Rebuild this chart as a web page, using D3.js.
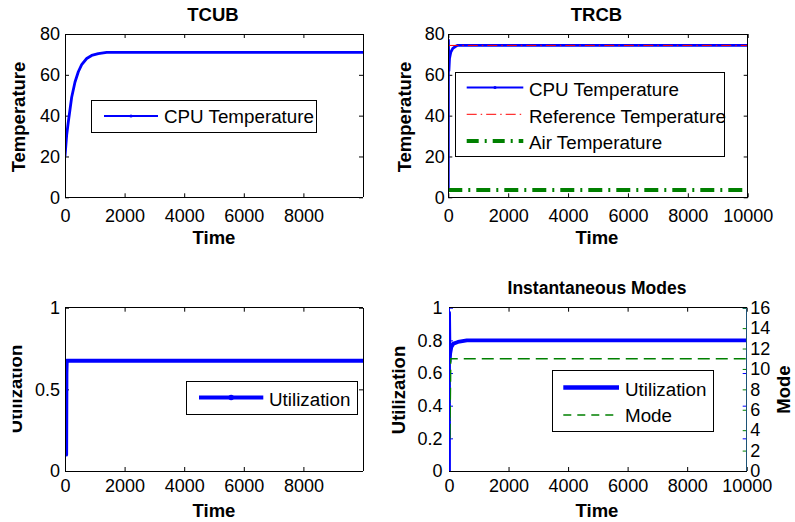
<!DOCTYPE html>
<html><head><meta charset="utf-8">
<script src="https://cdn.jsdelivr.net/npm/d3@7"></script>
<style>
body{margin:0;background:#fff}
svg{display:block}
text{font-family:"Liberation Sans",Arial,Helvetica,sans-serif;fill:#000}
</style>
</head><body>
<svg id="c" width="795" height="522"></svg>
<script>
// ---------------- DATA ----------------
const xTicksShort = [0, 2000, 4000, 6000, 8000];
const xTicksLong = [0, 2000, 4000, 6000, 8000, 10000];
const tempTicks = [0, 20, 40, 60, 80];
const utilTicksC = [0, 0.5, 1];
const utilTicksD = [0, 0.2, 0.4, 0.6, 0.8, 1];
const modeTicks = [0, 2, 4, 6, 8, 10, 12, 14, 16];

// TCUB
const tcubTime = [0, 56, 112, 168, 224, 336, 447, 560, 728, 895, 1118, 1400, 10000];
const tcubCpu  = [20, 30.5, 37, 43, 49, 56.5, 61.5, 65, 68, 69.5, 70.4, 71, 71];

// TRCB
const trcbTime = [0, 5, 20, 40, 80, 150, 250, 300, 10000];
const trcbCpu  = [3.6, 77, 62, 68, 71, 73, 74, 74.4, 74.4];
const trcbRefTime = [0, 10000];
const trcbRef  = [74.4, 74.4];
const trcbAirTime = [0, 10000];
const trcbAir  = [3.6, 3.6];

// Utilization (bottom-left)
const utilTime = [0, 40, 50, 60, 10000];
const utilVals = [0.1, 0.1, 0.6, 0.675, 0.675];

// Instantaneous Modes
const imTime = [0, 2, 20, 40, 80, 150, 300, 600, 10000];
const imUtil = [0, 0.97, 0.67, 0.72, 0.76, 0.78, 0.79, 0.80, 0.80];
const modeTime = [0, 3, 30, 60, 10000];
const modeVals = [1, 15, 3, 11, 11];

// ---------------- DRAW ----------------
const svg = d3.select("#c");
const FT = 18, FL = 18.5, FG = 18.8;
const BLUE = "#0000ff", RED = "#ff0000", GREEN = "#008000";
let clipId = 0;

function zip(a, b) { return a.map((v, i) => [v, b[i]]); }

function panel(o) {
  const x = d3.scaleLinear().domain(o.xd).range([o.l, o.r]);
  const y = d3.scaleLinear().domain(o.yd).range([o.b, o.t]);
  const g = svg.append("g");
  const id = "clip" + (clipId++);
  svg.append("clipPath").attr("id", id).append("rect")
    .attr("x", o.l).attr("y", o.t).attr("width", o.r - o.l).attr("height", o.b - o.t);
  const ax = d3.axisBottom(x).tickValues(o.xt).tickFormat(d3.format("d"))
    .tickSizeInner(-4).tickSizeOuter(0).tickPadding(o.xpad);
  const gx = g.append("g").attr("transform", `translate(0,${o.b})`).call(ax);
  gx.select(".domain").remove();
  gx.selectAll("text").attr("font-size", FT).attr("font-family", null).attr("fill", "#000");
  gx.selectAll("line").attr("stroke", "#000");
  const gt = g.append("g").attr("transform", `translate(0,${o.t})`)
    .call(d3.axisTop(x).tickValues(o.xt).tickFormat("").tickSizeInner(-4).tickSizeOuter(0));
  gt.select(".domain").remove();
  gt.selectAll("line").attr("stroke", "#000");
  const yc = o.ycol || "#000";
  const ay = d3.axisLeft(y).tickValues(o.yt).tickFormat(d => String(d))
    .tickSizeInner(-4).tickSizeOuter(0).tickPadding(o.ypad);
  const gy = g.append("g").attr("transform", `translate(${o.l},0)`).call(ay);
  gy.select(".domain").remove();
  gy.selectAll("text").attr("font-size", FT).attr("font-family", null).attr("fill", yc);
  gy.selectAll("line").attr("stroke", yc);
  const gr = g.append("g").attr("transform", `translate(${o.r},0)`)
    .call(d3.axisRight(y).tickValues(o.yt).tickFormat("").tickSizeInner(-4).tickSizeOuter(0));
  gr.select(".domain").remove();
  gr.selectAll("line").attr("stroke", yc);
  const body = svg.append("g").attr("clip-path", `url(#${id})`);
  return {x, y, g, body, o};
}

function box(p, colors) {
  const o = p.o;
  const c = Object.assign({l: "#000", r: "#000", t: "#000", b: "#000"}, colors || {});
  const sg = svg.append("g").attr("stroke-width", 1).attr("shape-rendering", "crispEdges");
  sg.append("line").attr("x1", o.l).attr("x2", o.r).attr("y1", o.t).attr("y2", o.t).attr("stroke", c.t);
  sg.append("line").attr("x1", o.l).attr("x2", o.r).attr("y1", o.b).attr("y2", o.b).attr("stroke", c.b);
  sg.append("line").attr("x1", o.l).attr("x2", o.l).attr("y1", o.t).attr("y2", o.b).attr("stroke", c.l);
  sg.append("line").attr("x1", o.r).attr("x2", o.r).attr("y1", o.t).attr("y2", o.b).attr("stroke", c.r);
}

function series(p, ts, vs, style, yScale) {
  const ys = yScale || p.y;
  const line = d3.line().x(d => p.x(d[0])).y(d => ys(d[1]));
  p.body.append("path").datum(zip(ts, vs)).attr("d", line)
    .attr("fill", "none").attr("stroke", style.c).attr("stroke-width", style.w)
    .attr("stroke-dasharray", style.dash || null).attr("stroke-linejoin", "round");
}

function label(txt, x, y, opts) {
  const parent = opts.clip ? svg.append("g").attr("clip-path", `url(#${opts.clip})`) : svg;
  const t = parent.append("text").text(txt).attr("x", x).attr("y", y)
    .attr("font-size", opts.size || FL).attr("font-weight", opts.bold === false ? null : "bold")
    .attr("text-anchor", opts.anchor || "middle").attr("fill", opts.color || "#000");
  if (opts.rot) t.attr("transform", `rotate(-90,${x},${y})`);
  return t;
}

function legend(bx, entries) {
  const g = svg.append("g");
  g.append("rect").attr("x", bx.x0).attr("y", bx.y0).attr("width", bx.x1 - bx.x0).attr("height", bx.y1 - bx.y0)
    .attr("fill", "#fff").attr("stroke", "#000").attr("stroke-width", 1).attr("shape-rendering", "crispEdges");
  entries.forEach(e => {
    g.append("line").attr("x1", bx.lx0).attr("x2", bx.lx1).attr("y1", e.ly).attr("y2", e.ly)
      .attr("stroke", e.c).attr("stroke-width", e.w).attr("stroke-dasharray", e.dash || null);
    if (e.dot) g.append("circle").attr("cx", (bx.lx0 + bx.lx1) / 2).attr("cy", e.ly).attr("r", e.w * 0.6 + 0.4).attr("fill", e.c);
    g.append("text").text(e.t).attr("x", bx.tx).attr("y", e.ty).attr("font-size", FG);
  });
}

// ---- Panel A: TCUB ----
const pA = panel({l: 65, r: 363, t: 34, b: 197.3, xd: [0, 10000], yd: [0, 80], xt: xTicksShort, yt: tempTicks, xpad: 12, ypad: 5});
series(pA, tcubTime, tcubCpu, {c: BLUE, w: 2.8});
box(pA);
label("TCUB", 213, 20.7, {});
label("Time", 214, 243.5, {});
label("Temperature", 25, 117, {rot: true});
legend({x0: 91.7, x1: 316.7, y0: 100, y1: 132, lx0: 104, lx1: 158, tx: 164},
  [{t: "CPU Temperature", c: BLUE, w: 2, ly: 116, ty: 123, dot: true}]);

// ---- Panel B: TRCB ----
const pB = panel({l: 448.3, r: 747.7, t: 34, b: 197.3, xd: [0, 10000], yd: [0, 80], xt: xTicksLong, yt: tempTicks, xpad: 12, ypad: 3.5});
series(pB, trcbTime, trcbCpu, {c: BLUE, w: 2.8});
series(pB, trcbRefTime, trcbRef, {c: RED, w: 1, dash: "10,4,1.5,4"});
series(pB, trcbAirTime, trcbAir, {c: GREEN, w: 4, dash: "14,6,2,6"});
box(pB);
label("TRCB", 596.5, 20.7, {});
label("Time", 597, 243.5, {});
label("Temperature", 410.5, 117, {rot: true});
legend({x0: 455, x1: 724.3, y0: 72.7, y1: 156.7, lx0: 466.7, lx1: 523.3, tx: 529},
  [{t: "CPU Temperature", c: BLUE, w: 2, ly: 87.5, ty: 95.7, dot: true},
   {t: "Reference Temperature", c: RED, w: 1, ly: 114.3, ty: 123, dash: "10,4,1.5,4"},
   {t: "Air Temperature", c: GREEN, w: 4, ly: 141, ty: 149, dash: "12,6,2,6"}]);

// ---- Panel C: Utilization ----
const pC = panel({l: 65, r: 363, t: 307.7, b: 471, xd: [0, 10000], yd: [0, 1], xt: xTicksShort, yt: utilTicksC, xpad: 8, ypad: 5});
series(pC, utilTime, utilVals, {c: BLUE, w: 3.8});
box(pC);
svg.append("clipPath").attr("id", "ylabC").append("rect").attr("x", 12.7).attr("y", 300).attr("width", 40).attr("height", 180);
label("Utilization", 21.7, 389, {rot: true, clip: "ylabC"});
label("Time", 214, 517, {});
legend({x0: 186.7, x1: 357.7, y0: 381.7, y1: 414, lx0: 199, lx1: 263.3, tx: 269},
  [{t: "Utilization", c: BLUE, w: 4, ly: 397.5, ty: 406, dot: true}]);

// ---- Panel D: Instantaneous Modes ----
const pD = panel({l: 449, r: 746.7, t: 307.7, b: 471, xd: [0, 10000], yd: [0, 1], xt: xTicksLong, yt: utilTicksD, xpad: 8, ypad: 6.5, ycol: BLUE});
const yMode = d3.scaleLinear().domain([0, 16]).range([471, 307.7]);
const gm = svg.append("g").attr("transform", `translate(746.7,0)`)
  .call(d3.axisRight(yMode).tickValues(modeTicks).tickFormat(d => String(d)).tickSizeInner(-4).tickSizeOuter(0).tickPadding(3.5));
gm.select(".domain").remove();
gm.selectAll("text").attr("font-size", FT).attr("font-family", null).attr("fill", GREEN);
gm.selectAll("line").attr("stroke", GREEN);
series(pD, imTime, imUtil, {c: BLUE, w: 3.8});
series(pD, modeTime, modeVals, {c: GREEN, w: 1.5, dash: "12,6"}, yMode);
box(pD, {l: BLUE, r: "#1c5276"});
label("Instantaneous Modes", 597, 294, {size: 17.5});
label("Time", 597, 517, {});
label("Utilization", 405, 390, {rot: true, color: BLUE});
label("Mode", 790, 389.5, {rot: true, color: GREEN});
legend({x0: 552.3, x1: 713.3, y0: 370, y1: 431, lx0: 563.3, lx1: 619, tx: 625},
  [{t: "Utilization", c: BLUE, w: 4.5, ly: 387.5, ty: 396},
   {t: "Mode", c: GREEN, w: 1.5, ly: 415, ty: 421.7, dash: "8,6"}]);
</script>
</body></html>
